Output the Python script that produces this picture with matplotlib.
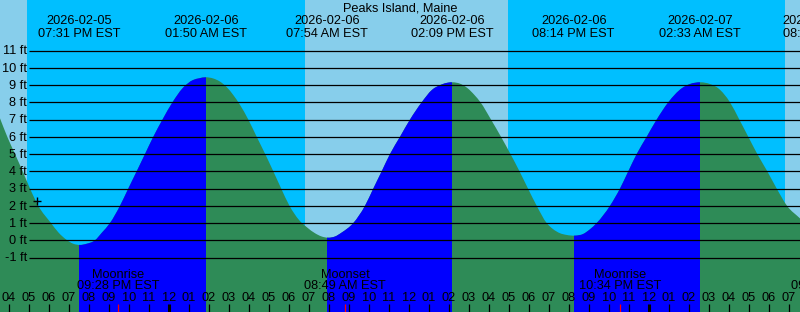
import numpy as np
import pandas as pd
import matplotlib
matplotlib.use("Agg")
import matplotlib.pyplot as plt
from matplotlib.path import Path
from matplotlib.patches import PathPatch
from matplotlib.transforms import blended_transform_factory

plt.rcParams['font.family'] = ['Liberation Sans', 'DejaVu Sans']

# ---------------- data ----------------
title = "Peaks Island, Maine"
start_time = "2026-02-05 15:33"          # left edge of chart (EST)

# tide height (ft), hours after start_time
curve_hours = [0.000, 0.365, 0.750, 1.135, 1.500, 1.915, 2.550, 2.925, 3.335, 3.665,
               4.000, 4.335, 4.750, 5.100, 5.500, 6.000, 6.415, 6.835, 7.250, 7.665,
               8.125, 8.625, 9.125, 9.650, 9.950, 10.285, 10.665, 11.000, 11.335, 11.665,
               12.000, 12.415, 12.835, 13.260, 13.665, 14.060, 14.475, 14.950, 15.350, 15.750,
               16.085, 16.415, 16.750, 17.085, 17.665, 18.250, 18.665, 19.085, 19.500, 20.000,
               20.500, 21.085, 21.600, 22.075, 22.400, 22.635, 23.000, 23.375, 23.725, 24.025,
               24.550, 25.050, 25.525, 25.975, 26.400, 26.835, 27.335, 27.650, 28.000, 28.335,
               28.750, 29.165, 29.500, 29.835, 30.500, 31.000, 31.415, 31.835, 32.335, 32.835,
               33.415, 34.085, 34.500, 35.035, 35.500, 35.915, 36.500, 36.965, 37.415, 37.865,
               38.365, 38.835, 39.350, 40.000]
curve_ft = [7.07, 6.0, 5.0, 4.0, 3.0, 2.0, 1.0, 0.45, 0.02, -0.20,
            -0.27, -0.20, 0.00, 0.45, 1.0, 2.0, 3.0, 4.0, 5.0, 6.0,
            7.0, 8.0, 8.81, 9.29, 9.39, 9.45, 9.38, 9.20, 8.88, 8.42,
            7.85, 7.0, 6.0, 5.0, 4.0, 3.0, 2.0, 1.18, 0.75, 0.41,
            0.22, 0.15, 0.22, 0.45, 1.0, 2.0, 3.0, 4.0, 5.0, 6.0,
            7.0, 8.0, 8.72, 9.03, 9.14, 9.16, 9.08, 8.82, 8.42, 8.0,
            7.0, 6.0, 5.0, 4.0, 3.0, 2.0, 1.0, 0.65, 0.41, 0.31,
            0.27, 0.37, 0.64, 1.0, 2.0, 3.0, 4.0, 5.0, 6.0, 7.0,
            8.0, 8.81, 9.06, 9.16, 9.06, 8.81, 8.0, 7.0, 6.0, 5.0,
            4.0, 3.0, 2.0, 1.27]

# high / low tide events
tide_times = ["2026-02-05 19:31", "2026-02-06 01:50", "2026-02-06 07:54",
              "2026-02-06 14:09", "2026-02-06 20:14", "2026-02-07 02:33",
              "2026-02-07 08:44"]
tide_types = ["low", "high", "low", "high", "low", "high", "low"]
tide_dates = ["2026-02-05", "2026-02-06", "2026-02-06", "2026-02-06",
              "2026-02-06", "2026-02-07", "2026-02-07"]
tide_clock = ["07:31 PM EST", "01:50 AM EST", "07:54 AM EST", "02:09 PM EST",
              "08:14 PM EST", "02:33 AM EST", "08:44 AM EST"]

# sun
sunset_times = ["2026-02-05 16:54", "2026-02-06 16:57"]
sunrise_times = ["2026-02-06 06:48", "2026-02-07 06:48"]

# moon
moon_times = ["2026-02-05 21:28", "2026-02-06 08:49", "2026-02-06 22:34", "2026-02-07 09:09"]
moon_kinds = ["Moonrise", "Moonset", "Moonrise", "Moonset"]
moon_clock = ["09:28 PM EST", "08:49 AM EST", "10:34 PM EST", "09:09 AM EST"]

# current-time marker
marker_time = "2026-02-05 17:25"
marker_ft = 2.3

# hour ticks
first_tick = "2026-02-05 16:00"
hour_labels = ["04", "05", "06", "07", "08", "09", "10", "11", "12", "01",
               "02", "03", "04", "05", "06", "07", "08", "09", "10", "11",
               "12", "01", "02", "03", "04", "05", "06", "07", "08", "09",
               "10", "11", "12", "01", "02", "03", "04", "05", "06", "07"]
midnight_labels_idx = [8, 32]

y_ticks = list(range(-1, 12))
y_tick_labels = [f"{v} ft" for v in y_ticks]

# ---------------- style ----------------
DAY = "#87CEEB"
NIGHT = "#00BFFF"
FLOOD = "#0000FF"
EBB = "#2E8B57"
FS = 9.2

W, H = 800, 312
PX_PER_HOUR = 20.0
ZERO_PX = 240.3
PX_PER_FT = 17.25

t0 = pd.Timestamp(start_time)
def hrs(ts):
    return (pd.Timestamp(ts) - t0) / pd.Timedelta(hours=1)

fig = plt.figure(figsize=(W / 100, H / 100), dpi=100)
ax = fig.add_axes([0, 0, 1, 1])
xmax = W / PX_PER_HOUR
ax.set_xlim(0, xmax)
ax.set_ylim(-(H - ZERO_PX) / PX_PER_FT, ZERO_PX / PX_PER_FT)
ax.set_axis_off()

ytr = blended_transform_factory(ax.transData, ax.transAxes)
def yfrac(py):
    return 1 - py / H

# sky
ax.axvspan(0, xmax, color=DAY, lw=0, zorder=0)
for ss, sr in zip(sunset_times, sunrise_times):
    ax.axvspan(hrs(ss), hrs(sr), color=NIGHT, lw=0, zorder=0.5)

# water: smooth (cubic Hermite / Bezier) path through the read points
hx = np.array(curve_hours)
hy = np.array(curve_ft)
slope = np.gradient(hy, hx)
verts = [(hx[0], hy[0])]
codes = [Path.MOVETO]
for i in range(len(hx) - 1):
    dx = hx[i + 1] - hx[i]
    verts += [(hx[i] + dx / 3, hy[i] + slope[i] * dx / 3),
              (hx[i + 1] - dx / 3, hy[i + 1] - slope[i + 1] * dx / 3),
              (hx[i + 1], hy[i + 1])]
    codes += [Path.CURVE4] * 3
verts += [(hx[-1], -20), (hx[0], -20), (hx[0], hy[0])]
codes += [Path.LINETO, Path.LINETO, Path.CLOSEPOLY]
water = PathPatch(Path(verts, codes), facecolor=EBB, lw=0, zorder=1)
ax.add_patch(water)

tt = [hrs(t) for t in tide_times]
for i in range(len(tt) - 1):
    if tide_types[i] == "low":
        sp = ax.axvspan(tt[i], tt[i + 1], color=FLOOD, lw=0, zorder=1.5)
        sp.set_clip_path(water)

# grid lines
ax.hlines(y_ticks, 29 / PX_PER_HOUR, xmax, color="black", lw=0.9, zorder=2)

# y labels
for v, lab in zip(y_ticks, y_tick_labels):
    py = ZERO_PX - v * PX_PER_FT + 3.8
    ax.text(26.8 / PX_PER_HOUR, yfrac(py), lab, transform=ytr, ha="right",
            va="baseline", fontsize=FS, color="black", zorder=3)

# title
ax.text(0.5, yfrac(11.7), title, transform=ax.transAxes, ha="center",
        va="baseline", fontsize=FS, zorder=3)

# tide labels
for t, d, c in zip(tt, tide_dates, tide_clock):
    if t > xmax:
        ax.text(782 / PX_PER_HOUR, yfrac(24.3), d, transform=ytr, ha="left",
                va="baseline", fontsize=FS, zorder=3)
    else:
        ax.text(t, yfrac(24.3), d, transform=ytr, ha="center",
                va="baseline", fontsize=FS, zorder=3)
    ax.text(t, yfrac(36.7), c, transform=ytr, ha="center",
            va="baseline", fontsize=FS, zorder=3)

# moon labels and red ticks
for t, k, c in zip(moon_times, moon_kinds, moon_clock):
    x = hrs(t)
    ax.text(x, yfrac(278.3), k, transform=ytr, ha="center", va="baseline",
            fontsize=FS, zorder=3)
    ax.text(x, yfrac(289.3), c, transform=ytr, ha="center", va="baseline",
            fontsize=FS, zorder=3)
    ax.vlines(x, yfrac(H), yfrac(303.7), transform=ytr, color="red", lw=0.9, zorder=3)

# hour ticks and labels
tick_x = hrs(first_tick) + np.arange(len(hour_labels))
for i, (x, lab) in enumerate(zip(tick_x, hour_labels)):
    lw = 2.2 if i in midnight_labels_idx else 0.9
    ax.vlines(x, yfrac(H), yfrac(303.7), transform=ytr, color="black", lw=lw, zorder=3)
    ax.text(x, yfrac(301.3), lab, transform=ytr, ha="center", va="baseline",
            fontsize=FS, zorder=3)

# current-time marker
ax.plot([hrs(marker_time)], [marker_ft], marker="+", color="black",
        markersize=6, mew=1.0, zorder=4)

fig.savefig("out.png", dpi=100)
